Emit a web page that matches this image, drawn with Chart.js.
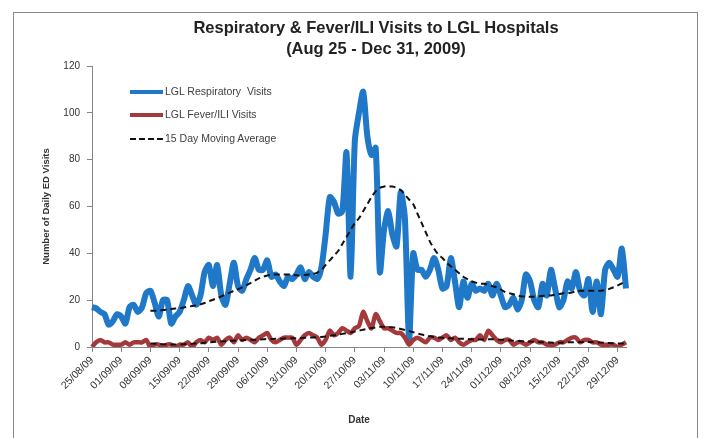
<!DOCTYPE html>
<html>
<head>
<meta charset="utf-8">
<script src="https://cdn.jsdelivr.net/npm/chart.js@4.4.1/dist/chart.umd.min.js"></script>
<style>
  body { margin: 0; background: #fff; width: 710px; height: 438px; overflow: hidden; position: relative; font-family: 'Liberation Sans', Arial, sans-serif; }
  #frame { position: absolute; left: 13px; top: 12px; width: 685px; height: 440px; border: 1px solid #8a8a8a; box-sizing: border-box; }
  #chart { position: absolute; left: 0; top: 0; }
  .title { position: absolute; left: 176px; width: 400px; text-align: center; font-weight: bold; font-size: 16.5px; color: #222; line-height: 21px; white-space: nowrap; }
  .leg { position: absolute; left: 130px; height: 14px; font-size: 10.5px; color: #404040; white-space: nowrap; }
  .leg span.ln { position: absolute; left: 0; width: 33px; top: 6px; }
  .leg span.tx { position: absolute; left: 35px; top: 0; line-height: 13px; }
</style>
</head>
<body>
<div id="frame"></div>
<canvas id="chart" width="710" height="438"></canvas>
<div class="title" style="top:17px">Respiratory &amp; Fever/ILI Visits to LGL Hospitals</div>
<div class="title" style="top:38px">(Aug 25 - Dec 31, 2009)</div>
<div class="leg" style="top:85px"><span class="ln" style="border-top:4px solid #1f78c8;top:5px"></span><span class="tx">LGL Respiratory&nbsp; Visits</span></div>
<div class="leg" style="top:108px"><span class="ln" style="border-top:4px solid #a3393b;top:5px"></span><span class="tx">LGL Fever/ILI Visits</span></div>
<div class="leg" style="top:132px"><span class="ln" style="border-top:2px dashed #111;top:6px"></span><span class="tx">15 Day Moving Average</span></div>
<script>
// weekly tick labels (every 7th day from 25/08/09)
const weekLabels = ['25/08/09', '01/09/09', '08/09/09', '15/09/09', '22/09/09', '29/09/09', '06/10/09',
  '13/10/09', '20/10/09', '27/10/09', '03/11/09', '10/11/09', '17/11/09', '24/11/09', '01/12/09',
  '08/12/09', '15/12/09', '22/12/09', '29/12/09'];
const dayCount = 129; // Aug 25 - Dec 31

// LGL Respiratory Visits (daily)
const respiratory = [
  17, 16.5, 15, 14, 9.5, 11, 14, 13, 10, 17,
  18, 15, 17, 23, 24, 19, 13, 20, 20, 10,
  13, 15, 20, 26, 22, 18, 22, 32, 35, 26,
  35, 22, 18, 27, 36, 26, 24, 29, 33, 38,
  33, 33, 37, 30, 31, 28, 26, 30, 29, 31,
  34, 29, 32, 30, 29, 34, 48, 64, 62, 57,
  58, 83, 30, 88, 100, 109, 90, 82, 85, 32,
  50, 58, 48, 43, 66, 55, 3, 40, 33, 33,
  30, 33, 38, 33, 25, 26, 38, 28, 17, 28,
  21, 27, 24, 25, 24, 27, 22, 27, 22, 17,
  18, 21, 16, 20, 31, 28, 20, 17, 27, 22,
  33, 25, 17, 20, 28, 25, 32, 24, 22, 29,
  15, 28, 14, 33, 36, 33, 30, 42, 25
];

// LGL Fever/ILI Visits (daily)
const feverIli = [
  0, 2, 3, 2, 2, 1, 1, 1, 2, 1,
  2, 2, 2, 3, 0, 1, 1, 0, 1, 1,
  0, 1, 1, 2, 0, 2, 3, 2, 4, 3,
  4, 1, 3, 4, 2, 5, 3, 4, 3, 2,
  4, 5, 6, 3, 2, 3, 4, 4, 4, 1,
  3, 5, 6, 5, 4, 1, 3, 7, 5, 6,
  8, 7, 6, 8, 9, 15, 11, 8, 14, 11,
  8, 8, 7, 6, 6, 4, 1, 3, 4, 3,
  2, 4, 4, 3, 4, 5, 3, 4, 2, 1,
  2, 3, 3, 5, 3, 7, 5, 3, 2, 3,
  3, 1, 2, 2, 1, 2, 3, 2, 2, 1,
  1, 1, 2, 2, 3, 4, 4, 2, 3, 3,
  2, 2, 1, 1, 1, 1, 0, 1, 2
];

// 15 day moving average lines (start on day 15)
const respiratoryAvg = [
  null, null, null, null, null, null, null, null, null, null, null, null, null, null,
  15.5, 15.5, 15.5, 15.8, 16, 16.2,
  16.4, 16.6, 16.9, 17.2, 17.5, 17.8, 18.2, 18.8, 19.5, 20.2,
  20.9, 21.6, 22.4, 23.2, 24, 24.7, 25.5, 26.4, 27.3, 28.3,
  29.3, 30, 30.5, 30.8, 31, 31, 31, 31, 30.8, 30.6,
  30.6, 30.8, 31, 31.2, 31.8, 33, 35, 37, 39, 41,
  44, 47, 50, 53, 55, 58, 61, 64, 66.5, 68,
  68.5, 68.7, 68.5, 68, 67, 65, 63, 61, 57, 53,
  49, 45, 42, 39.5, 38, 36, 34.5, 33, 31.5, 30,
  29, 28, 27.5, 27, 27, 26.5, 26, 25.5, 24.5, 23.5,
  23, 22.5, 22, 21.6, 21.5, 21.5, 21.5, 21.6, 21.8, 22,
  22, 22.3, 22.6, 23, 23, 23.3, 23.6, 24, 24, 24,
  24, 24, 24, 24.3, 24.8, 25.5, 26.3, 27.2, 28
];

const feverAvg = [
  null, null, null, null, null, null, null, null, null, null, null, null, null, null,
  1.5, 1.4, 1.3, 1.2, 1.2, 1.1,
  1.1, 1.1, 1.2, 1.3, 1.4, 1.5, 1.6, 1.8, 2.0, 2.1,
  2.3, 2.4, 2.5, 2.6, 2.7, 2.8, 2.9, 3.0, 3.1, 3.1,
  3.2, 3.3, 3.4, 3.4, 3.5, 3.5, 3.6, 3.6, 3.7, 3.7,
  3.8, 3.9, 4.0, 4.1, 4.2, 4.3, 4.5, 4.8, 5.0, 5.3,
  5.6, 5.9, 6.2, 6.6, 7.0, 7.4, 7.8, 8.1, 8.4, 8.6,
  8.7, 8.6, 8.4, 8.1, 7.7, 7.3, 6.8, 6.3, 5.8, 5.3,
  4.9, 4.6, 4.3, 4.1, 3.9, 3.8, 3.7, 3.6, 3.5, 3.5,
  3.4, 3.3, 3.2, 3.2, 3.2, 3.3, 3.3, 3.2, 3.1, 3.0,
  2.9, 2.7, 2.6, 2.5, 2.4, 2.3, 2.2, 2.1, 2.0, 2.0,
  1.9, 1.8, 1.8, 1.9, 2.0, 2.0, 2.0, 2.1, 2.1, 2.1,
  2.1, 2.0, 1.9, 1.8, 1.7, 1.6, 1.5, 1.5, 1.5
];

const categories = [];
for (let i = 0; i < dayCount; i++) {
  categories.push(i % 7 === 0 ? weekLabels[i / 7] : '');
}

const axisColor = '#868686';
const tickFont = { family: "'Liberation Sans', Arial, sans-serif", size: 10 };

new Chart(document.getElementById('chart'), {
  type: 'line',
  data: {
    labels: categories,
    datasets: [
      { label: '15 Day Moving Average', data: respiratoryAvg, borderColor: '#111', borderWidth: 2, borderDash: [6, 4], pointRadius: 0, tension: 0.3, order: 0 },
      { label: '15 Day Moving Average', data: feverAvg, borderColor: '#111', borderWidth: 2, borderDash: [6, 4], pointRadius: 0, tension: 0.3, order: 1 },
      { label: 'LGL Fever/ILI Visits', data: feverIli, borderColor: '#a3393b', borderWidth: 4.5, pointRadius: 0, tension: 0.25, order: 2 },
      { label: 'LGL Respiratory Visits', data: respiratory, borderColor: '#1f78c8', borderWidth: 6, pointRadius: 0, tension: 0.25, order: 3 }
    ]
  },
  options: {
    responsive: false,
    animation: false,
    devicePixelRatio: 1,
    layout: { padding: { top: 66, right: 84, left: 0, bottom: 0 } },
    plugins: { legend: { display: false }, tooltip: { enabled: false }, title: { display: false } },
    scales: {
      x: {
        afterFit: (s) => { s.height = 91; },
        border: { color: axisColor, width: 1 },
        grid: {
          drawOnChartArea: false,
          drawTicks: true,
          tickLength: 5,
          color: (ctx) => (ctx.index % 7 === 0 ? axisColor : 'rgba(0,0,0,0)')
        },
        ticks: { autoSkip: false, minRotation: 45, maxRotation: 45, padding: 2, color: '#333', font: { family: "'Liberation Sans', Arial, sans-serif", size: 10.5 } },
        title: { display: true, text: 'Date', color: '#333', font: { family: "'Liberation Sans', Arial, sans-serif", size: 10, weight: 'bold' }, padding: { top: 0, bottom: 12 } }
      },
      y: {
        afterFit: (s) => { s.width = 92; },
        min: 0,
        max: 120,
        border: { color: axisColor, width: 1 },
        grid: { drawOnChartArea: false, drawTicks: true, tickLength: 5, color: axisColor },
        ticks: { stepSize: 20, padding: 7, color: '#333', font: tickFont },
        title: { display: true, text: 'Number of Daily ED Visits', color: '#333', font: { family: "'Liberation Sans', Arial, sans-serif", size: 9.5, weight: 'bold' }, padding: { top: 41, bottom: 0 } }
      }
    }
  }
});
</script>
</body>
</html>
